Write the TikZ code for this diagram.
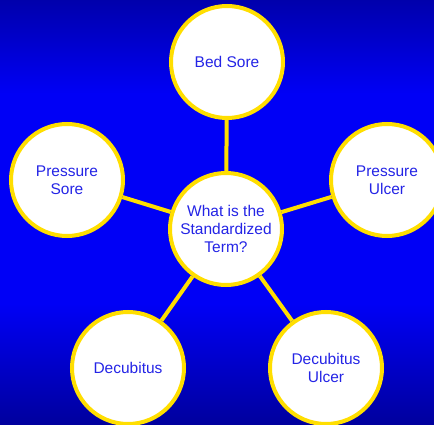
\documentclass[tikz,border=0pt]{standalone}
\usepackage{fontspec}
\setmainfont{Liberation Sans}
\definecolor{bgtop}{RGB}{0,0,172}
\definecolor{bgmid}{RGB}{0,0,246}
\definecolor{bgbot}{RGB}{0,0,158}
\definecolor{termtext}{RGB}{36,36,230}
\definecolor{ringyellow}{RGB}{255,222,0}
\begin{document}
\begin{tikzpicture}[x=1pt,y=1pt,
  term/.style={circle,draw=ringyellow,line width=4pt,fill=white,minimum size=112pt,inner sep=0pt,
    align=center,text=termtext,font=\fontsize{15.5}{18.3}\selectfont},
  link/.style={draw=ringyellow,line width=4pt}]
\useasboundingbox (0,0) rectangle (434,424);
\shade[top color=bgtop,bottom color=bgmid] (0,424) rectangle (434,330);
\fill[bgmid] (0,330.5) rectangle (434,120);
\shade[top color=bgmid,bottom color=bgbot] (0,120.5) rectangle (434,0);
\node[term] (c) at (226,195) {What is the\\Standardized\\Term?};
\node[term] (bed) at (227,362) {Bed Sore};
\node[term] (psore) at (67,244) {Pressure\\Sore};
\node[term] (pulcer) at (387,244) {Pressure\\Ulcer};
\node[term] (dec) at (128,56) {Decubitus};
\node[term] (decu) at (326,56) {Decubitus\\Ulcer};
\draw[link] (c) -- (bed);
\draw[link] (c) -- (psore);
\draw[link] (c) -- (pulcer);
\draw[link] (c) -- (dec);
\draw[link] (c) -- (decu);
\end{tikzpicture}
\end{document}
